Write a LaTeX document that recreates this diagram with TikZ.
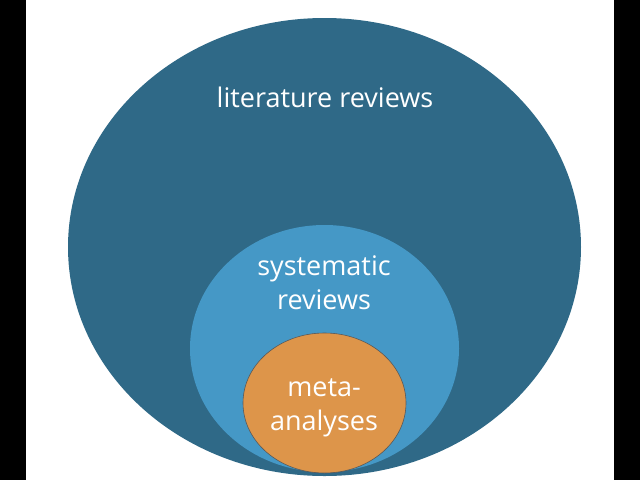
\documentclass[tikz,border=0pt]{standalone}
\usepackage{fontspec}
\setmainfont{Open Sans}
\definecolor{darkb}{HTML}{2F6987}
\definecolor{lightb}{HTML}{4598C6}
\definecolor{orng}{HTML}{DD954A}
\begin{document}
\begin{tikzpicture}[x=1pt,y=-1pt,
  lbl/.style={text=white,font=\fontsize{27}{34}\selectfont,align=center,inner sep=0pt}]
\useasboundingbox (0,0) rectangle (640,480);
\fill[white] (0,0) rectangle (640,480);
\fill[black] (0,0) rectangle (26,480);
\fill[black] (614,0) rectangle (640,480);
\fill[darkb] (324.5,247) ellipse [x radius=256.5, y radius=229];
\fill[lightb] (324.5,348.5) ellipse [x radius=134.5, y radius=123.5];
\filldraw[fill=orng,draw=gray!70!black,line width=0.6pt] (324.5,403) ellipse [x radius=81.5, y radius=70];
\node[lbl] (lit) at (325,97) {literature reviews};
\node[lbl] (sys) at (324,283) {systematic\\reviews};
\node[lbl] (meta) at (324,408) {meta-\\analyses};
\end{tikzpicture}
\end{document}
